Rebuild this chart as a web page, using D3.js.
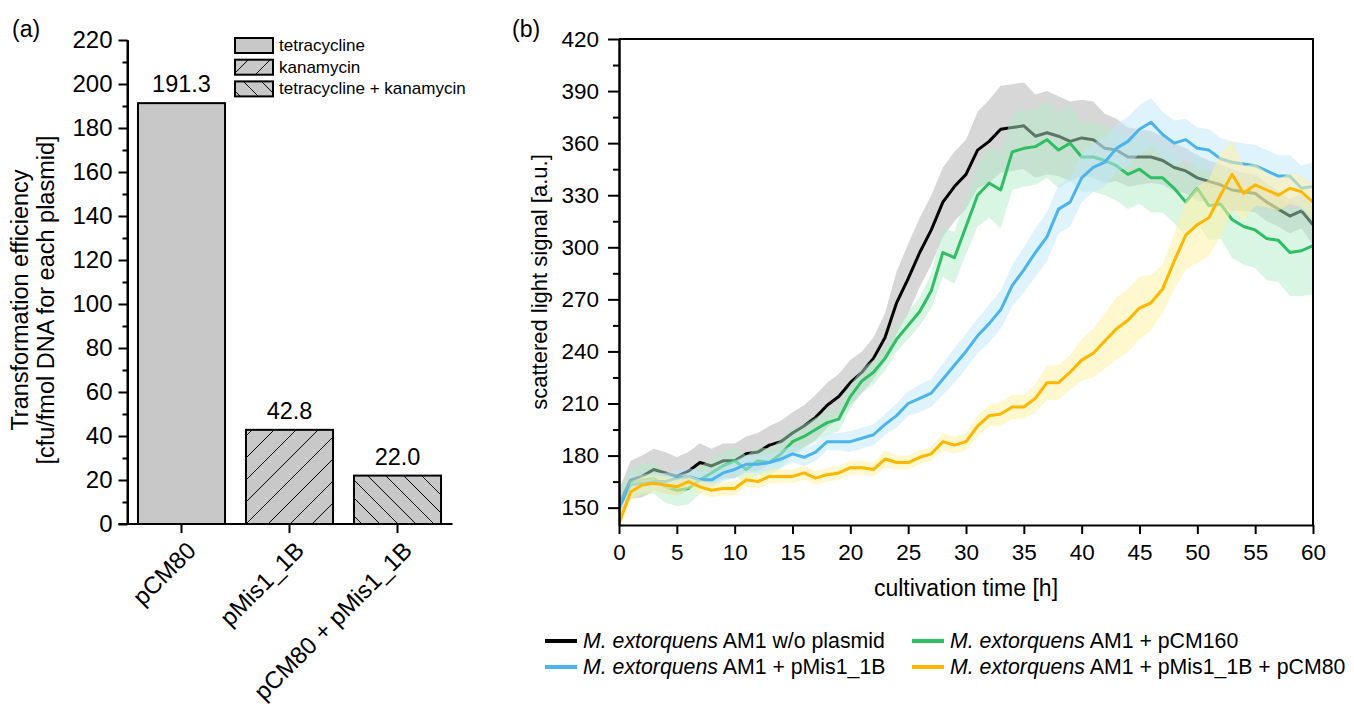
<!DOCTYPE html>
<html><head><meta charset="utf-8">
<script src="https://cdn.jsdelivr.net/npm/d3@7"></script>
<style>
body{margin:0;background:#fff}
svg{display:block}
text{font-family:"Liberation Sans",Arial,Helvetica,sans-serif;fill:#000}
</style>
</head><body>
<svg id="c" width="1354" height="710"></svg>
<script>
// ---------- Panel (a) data ----------
const barCategories = ["pCM80", "pMis1_1B", "pCM80 + pMis1_1B"];
const barValues = [191.3, 42.8, 22.0];
const barValueLabels = ["191.3", "42.8", "22.0"];
const barSeries = ["tetracycline", "kanamycin", "tetracycline + kanamycin"];
const barYTicks = [0, 20, 40, 60, 80, 100, 120, 140, 160, 180, 200, 220];
const barYMinor = [10, 30, 50, 70, 90, 110, 130, 150, 170, 190, 210];

// ---------- Panel (b) data ----------
const timeH = [0,1,2,3,4,5,6,7,8,9,10,11,12,13,14,15,16,17,18,19,20,21,22,23,24,25,26,27,28,29,30,
  31,32,33,34,35,36,37,38,39,40,41,42,43,44,45,46,47,48,49,50,51,52,53,54,55,56,57,58,59,60];
const wtMean = [152,166,168,172,170,168,171,176,174,177,177,181,182,186,188,193,197,202,209,214,222,
  228,236,248,268,282,297,310,326,335,342,356,361,368,369,370,364,366,364,361,363,
  362,357,356,352,352,352,350,346,344,340,338,336,333,332,331,326,322,318,321,313];
const wtSd = [8,11,12,12,12,11, 11,11,10,10,10,10,11,11,12,12, 12,13,13,13,13,12,12,
  14,18,20,20,20,20, 20,20,22,24,25,25,25, 24,24,23,23,22,22,20,
  18,17,16,15,14,14,13,13, 12,12,12,11,11,11,10,10,10,12];
const pcm160Mean = [150,164,166,167,162,160,161,166,170,174,177,172,177,176,181,188,191,195,199,201,214,
  223,228,236,247,255,263,275,297,294,312,330,337,333,355,357,358,362,356,360,352,
  352,350,347,342,345,340,340,334,326,334,324,325,316,312,310,305,304,297,298,301];
const pcm160Sd = [8,9,9,9,9,9, 9,8,8,8,8,8,8,8,8,8, 7,7,7,7,7,7,7,
  7,7,8,8,10,14, 15,16,18,20,22,22,22, 22,22,22,22,20,20,20,
  20,20,20,20,20,20,20,20, 20,20,22,22,22,24,24,25,26,28];
const pmisMean = [150,163,164,165,165,167,168,166,166,170,172,175,175,176,178,181,179,182,188,188,188,
  190,192,198,203,210,213,216,224,232,240,249,256,264,278,287,297,306,322,326,340,
  346,349,357,361,368,372,365,360,362,357,356,351,349,348,347,344,341,341,334,335];
const pmisSd = [6,6,5,5,5,5, 5,5,5,5,5,5,5,5,5,5, 5,5,5,5,6,6,6,
  6,7,7,8,8,9, 10,10,10,11,11,12,13, 14,14,14,14,14,14,14,
  14,14,14,14,13,13,12,12, 12,12,12,12,12,12,12,12,13,14];
const pmisPcm80Mean = [141,159,163,164,163,162,165,162,160,161,161,166,165,168,168,168,170,167,169,170,173,
  173,172,178,176,176,179,181,188,186,188,197,203,204,208,208,213,222,222,228,235,
  239,246,253,258,265,268,276,292,307,313,317,330,342,331,336,333,330,334,332,326];
const pmisPcm80Sd = [4,5,5,5,5,5, 4,4,4,4,4,4,4,4,4,4, 4,4,4,4,4,4,4,
  5,4,4,4,4,5, 5,5,6,6,7,7,7, 8,10,10,10,12,14,16,
  18,18,18,16,14,16,20,22, 22,24,20,16,12,10,9,9,9,10];
const lineYTicks = [150, 180, 210, 240, 270, 300, 330, 360, 390, 420];
const lineYMinor = [165, 195, 225, 255, 285, 315, 345, 375, 405];
const lineXTicks = [0, 5, 10, 15, 20, 25, 30, 35, 40, 45, 50, 55, 60];
const legendSuffix = ["AM1 w/o plasmid", "AM1 + pCM160", "AM1 + pMis1_1B", "AM1 + pMis1_1B + pCM80"];

const lineColors = ["#000000", "#2ebe64", "#4db3ec", "#ffb600"];
const bandColors = ["#bdbdbd", "#b4ecc9", "#bfe8fb", "#fff0a6"];
const bandOpacity = [0.6, 0.5, 0.5, 0.55];

const svg = d3.select("#c");
const FONT = '"Liberation Sans",Arial,sans-serif';

// patterns
const defs = svg.append("defs");
const p1 = defs.append("pattern").attr("id","hatchF").attr("patternUnits","userSpaceOnUse")
  .attr("width",22).attr("height",22);
p1.append("rect").attr("width",22).attr("height",22).attr("fill","#c8c8c8");
p1.append("path").attr("d","M0,22L22,0M-5.5,5.5L5.5,-5.5M16.5,27.5L27.5,16.5")
  .attr("stroke","#000").attr("stroke-width",1);
const p2 = defs.append("pattern").attr("id","hatchB").attr("patternUnits","userSpaceOnUse")
  .attr("width",18).attr("height",18);
p2.append("rect").attr("width",18).attr("height",18).attr("fill","#c8c8c8");
p2.append("path").attr("d","M0,0L18,18M-4.5,13.5L4.5,22.5M13.5,-4.5L22.5,4.5")
  .attr("stroke","#000").attr("stroke-width",1);
const barFills = ["#c8c8c8", "url(#hatchF)", "url(#hatchB)"];

// ================= Panel (a) =================
const ga = svg.append("g");
const xa = d3.scaleBand().domain(barCategories).range([127.5, 451.5]).paddingInner(0.194).paddingOuter(0.097);
const ya = d3.scaleLinear().domain([0, 220]).range([524, 40]);

ga.selectAll("rect.bar").data(barValues).join("rect").attr("class","bar")
  .attr("x",(d,i)=>xa(barCategories[i])).attr("width",xa.bandwidth())
  .attr("y",d=>ya(d)).attr("height",d=>ya(0)-ya(d))
  .attr("fill",(d,i)=>barFills[i]).attr("stroke","#000").attr("stroke-width",2);

ga.selectAll("text.val").data(barValues).join("text").attr("class","val")
  .attr("x",(d,i)=>xa(barCategories[i])+xa.bandwidth()/2).attr("y",d=>ya(d)-11)
  .attr("text-anchor","middle").attr("font-size",23.5).text((d,i)=>barValueLabels[i]);

// y axis
const yaxA = ga.append("g").attr("transform","translate(127.5,0)")
  .call(d3.axisLeft(ya).tickValues(barYTicks).tickSize(9).tickSizeOuter(0).tickPadding(6));
const yaxAm = ga.append("g").attr("transform","translate(127.5,0)")
  .call(d3.axisLeft(ya).tickValues(barYMinor).tickSize(5).tickSizeOuter(0).tickFormat(""));
[yaxA, yaxAm].forEach(g=>{
  g.select(".domain").attr("stroke-width",2);
  g.selectAll(".tick line").attr("stroke-width",2);
  g.selectAll("text").attr("font-size",24).attr("font-family",FONT).attr("fill","#000");
});
yaxA.select(".domain").attr("d","M0,40V524");
// x axis
const xaxA = ga.append("g").attr("transform","translate(0,524)")
  .call(d3.axisBottom(xa).tickSize(9).tickSizeOuter(0).tickFormat(""));
xaxA.select(".domain").attr("d","M118.5,0H452.5").attr("stroke-width",2);
xaxA.selectAll(".tick line").attr("stroke-width",2);
ga.selectAll("text.cat").data(barCategories).join("text").attr("class","cat")
  .attr("transform",d=>`translate(${xa(d)+xa.bandwidth()/2+16},552) rotate(-45)`)
  .attr("text-anchor","end").attr("font-size",24).text(d=>d);

// y title
const yta = ga.append("text").attr("transform","translate(41,300) rotate(-90)")
  .attr("text-anchor","middle").attr("font-size",23.5);
yta.append("tspan").attr("x",0).attr("dy","-0.55em").text("Transformation efficiency");
yta.append("tspan").attr("x",0).attr("dy","1.1em").text("[cfu/fmol DNA for each plasmid]");

// legend a
const legA = ga.append("g");
barSeries.forEach((s,i)=>{
  const cy = 45.5 + i*21.7;
  legA.append("rect").attr("x",235).attr("y",cy-7.5).attr("width",38).attr("height",15)
    .attr("fill",barFills[i]).attr("stroke","#000").attr("stroke-width",2);
  legA.append("text").attr("x",279).attr("y",cy).attr("dominant-baseline","central")
    .attr("font-size",17).text(s);
});
svg.append("text").attr("x",12).attr("y",37).attr("font-size",23).text("(a)");

// ================= Panel (b) =================
const gb = svg.append("g");
const xb = d3.scaleLinear().domain([0, 60]).range([619, 1313]);
const yb = d3.scaleLinear().domain([140, 420]).range([525, 39]);

const means = [wtMean, pcm160Mean, pmisMean, pmisPcm80Mean];
const sds = [wtSd, pcm160Sd, pmisSd, pmisPcm80Sd];
const area = d3.area().x(d=>xb(d.t)).y0(d=>yb(d.m-d.s)).y1(d=>yb(d.m+d.s));
const line = d3.line().x(d=>xb(d.t)).y(d=>yb(d.m));
const clip = defs.append("clipPath").attr("id","clipB");
clip.append("rect").attr("x",619).attr("y",39).attr("width",694).attr("height",486);
const plot = gb.append("g").attr("clip-path","url(#clipB)");
means.forEach((m,k)=>{
  const pts = timeH.map((t,i)=>({t:t, m:m[i], s:sds[k][i]}));
  plot.append("path").datum(pts).attr("d",area).attr("fill",bandColors[k]).attr("fill-opacity",bandOpacity[k]);
  plot.append("path").datum(pts).attr("d",line).attr("fill","none")
    .attr("stroke",lineColors[k]).attr("stroke-width",3).attr("stroke-linejoin","round");
});

const yaxB = gb.append("g").attr("transform","translate(619,0)")
  .call(d3.axisLeft(yb).tickValues(lineYTicks).tickSize(11).tickSizeOuter(0).tickPadding(9));
const yaxBm = gb.append("g").attr("transform","translate(619,0)")
  .call(d3.axisLeft(yb).tickValues(lineYMinor).tickSize(6).tickSizeOuter(0).tickFormat(""));
const xaxB = gb.append("g").attr("transform","translate(0,525)")
  .call(d3.axisBottom(xb).tickValues(lineXTicks).tickSize(9).tickSizeOuter(0).tickPadding(10));
[yaxB, yaxBm, xaxB].forEach(g=>{
  g.select(".domain").attr("stroke-width",2);
  g.selectAll(".tick line").attr("stroke-width",2);
  g.selectAll("text").attr("font-size",22.5).attr("font-family",FONT).attr("fill","#000");
});
gb.append("path").attr("d","M619,39H1313V525").attr("fill","none").attr("stroke","#000").attr("stroke-width",2);

gb.append("text").attr("x",966).attr("y",588).attr("text-anchor","middle").attr("dominant-baseline","central")
  .attr("font-size",23).text("cultivation time [h]");
gb.append("text").attr("transform","translate(539,282) rotate(-90)").attr("text-anchor","middle")
  .attr("dominant-baseline","central").attr("font-size",22).text("scattered light signal [a.u.]");
svg.append("text").attr("x",512).attr("y",37).attr("font-size",23).text("(b)");

// legend b
const legPos = [[545,641],[912,641],[545,667],[912,667]];
legPos.forEach((p,k)=>{
  gb.append("line").attr("x1",p[0]).attr("x2",p[0]+32).attr("y1",p[1]).attr("y2",p[1])
    .attr("stroke",lineColors[k]).attr("stroke-width",4);
  const t = gb.append("text").attr("x",p[0]+38).attr("y",p[1]).attr("dominant-baseline","central")
    .attr("font-size",21.3);
  t.append("tspan").attr("font-style","italic").text("M. extorquens");
  t.append("tspan").text(" " + legendSuffix[k]);
});
</script>
</body></html>
